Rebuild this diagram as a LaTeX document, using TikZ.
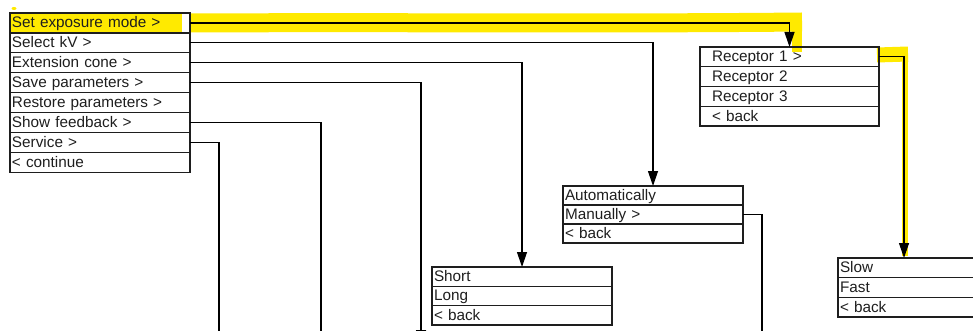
\documentclass[tikz,border=0pt]{standalone}
\usepackage{fontspec}
\setmainfont{Liberation Sans}
\usetikzlibrary{arrows.meta,backgrounds}
\definecolor{hl}{RGB}{255,234,0}
\definecolor{ink}{RGB}{30,30,30}
\begin{document}
\begin{tikzpicture}[x=1pt,y=-1pt,
  row/.style={draw=ink, line width=1.3pt, rectangle, anchor=north west,
    minimum height=#1, inner xsep=2pt, inner ysep=0pt, outer sep=0pt,
    text width=176pt, align=left, text height=12pt, text depth=2pt,
    font=\fontsize{15.3}{18}\selectfont, text=ink},
  row/.default=19.9pt,
  rrow/.style={row=19.75pt, inner xsep=12pt, text width=155pt},
  line/.style={draw=black, line width=1.2pt},
  conn/.style={line, -{Triangle[length=15pt,width=10pt]}}]
\useasboundingbox (0,0) rectangle (973,331);
\clip (0,0) rectangle (973,331);
% main menu
\foreach \i/\t in {1/Set exposure mode >,2/Select kV >,3/Extension cone >,4/Save parameters >,5/Restore parameters >,6/Show feedback >,7/Service >,8/< continue}
  \node[row] (m\i) at (10,{13+(\i-1)*19.9}) {\t};
% receptor menu
\foreach \i/\t in {1/Receptor 1 >,2/Receptor 2,3/Receptor 3,4/< back}
  \node[rrow] (r\i) at (700,{47+(\i-1)*19.75}) {\t};
% kV menu
\foreach \i/\t in {1/Automatically,2/Manually >,3/< back}
  \node[row=19pt] (a\i) at (563,{186+(\i-1)*19}) {\t};
% cone menu
\foreach \i/\t in {1/Short,2/Long,3/< back}
  \node[row=19.3pt] (sh\i) at (432,{267+(\i-1)*19.3}) {\t};
% speed menu
\foreach \i/\t in {1/Slow,2/Fast,3/< back}
  \node[row=19.7pt] (s\i) at (838,{258+(\i-1)*19.7}) {\t};
% highlights
\begin{scope}[on background layer]
  \fill[hl] (10.6,13.6) rectangle (182,32.4);
  \fill[hl] (14,8.5) ellipse (2.5 and 1.5);
  \draw[hl, line width=19pt] (191,23) .. controls (400,22) and (600,24) .. (802,22);
  \draw[hl, line width=10pt] (797,20) -- (797,52);
  \draw[hl, line width=15pt] (877,55) -- (908,54);
  \draw[hl, line width=6pt] (905,55) -- (905,256);
\end{scope}
% connectors
\coordinate (e4) at (421,345);
\coordinate (e6) at (321,345);
\coordinate (e7) at (219,345);
\coordinate (ea) at (762,345);
\draw[conn] (m1.east) -| (r1.north);
\draw[conn] (m2.east) -| (a1.north);
\draw[conn] (m3.east) -| (sh1.north);
\draw[conn] (m4.east) -| (e4);
\draw[line] (m6.east) -| (e6);
\draw[line] (m7.east) -| (e7);
\draw[conn] (r1.east) -| ([xshift=-24pt]s1.north);
\draw[line] (a2.east) -| (ea);
\end{tikzpicture}
\end{document}
